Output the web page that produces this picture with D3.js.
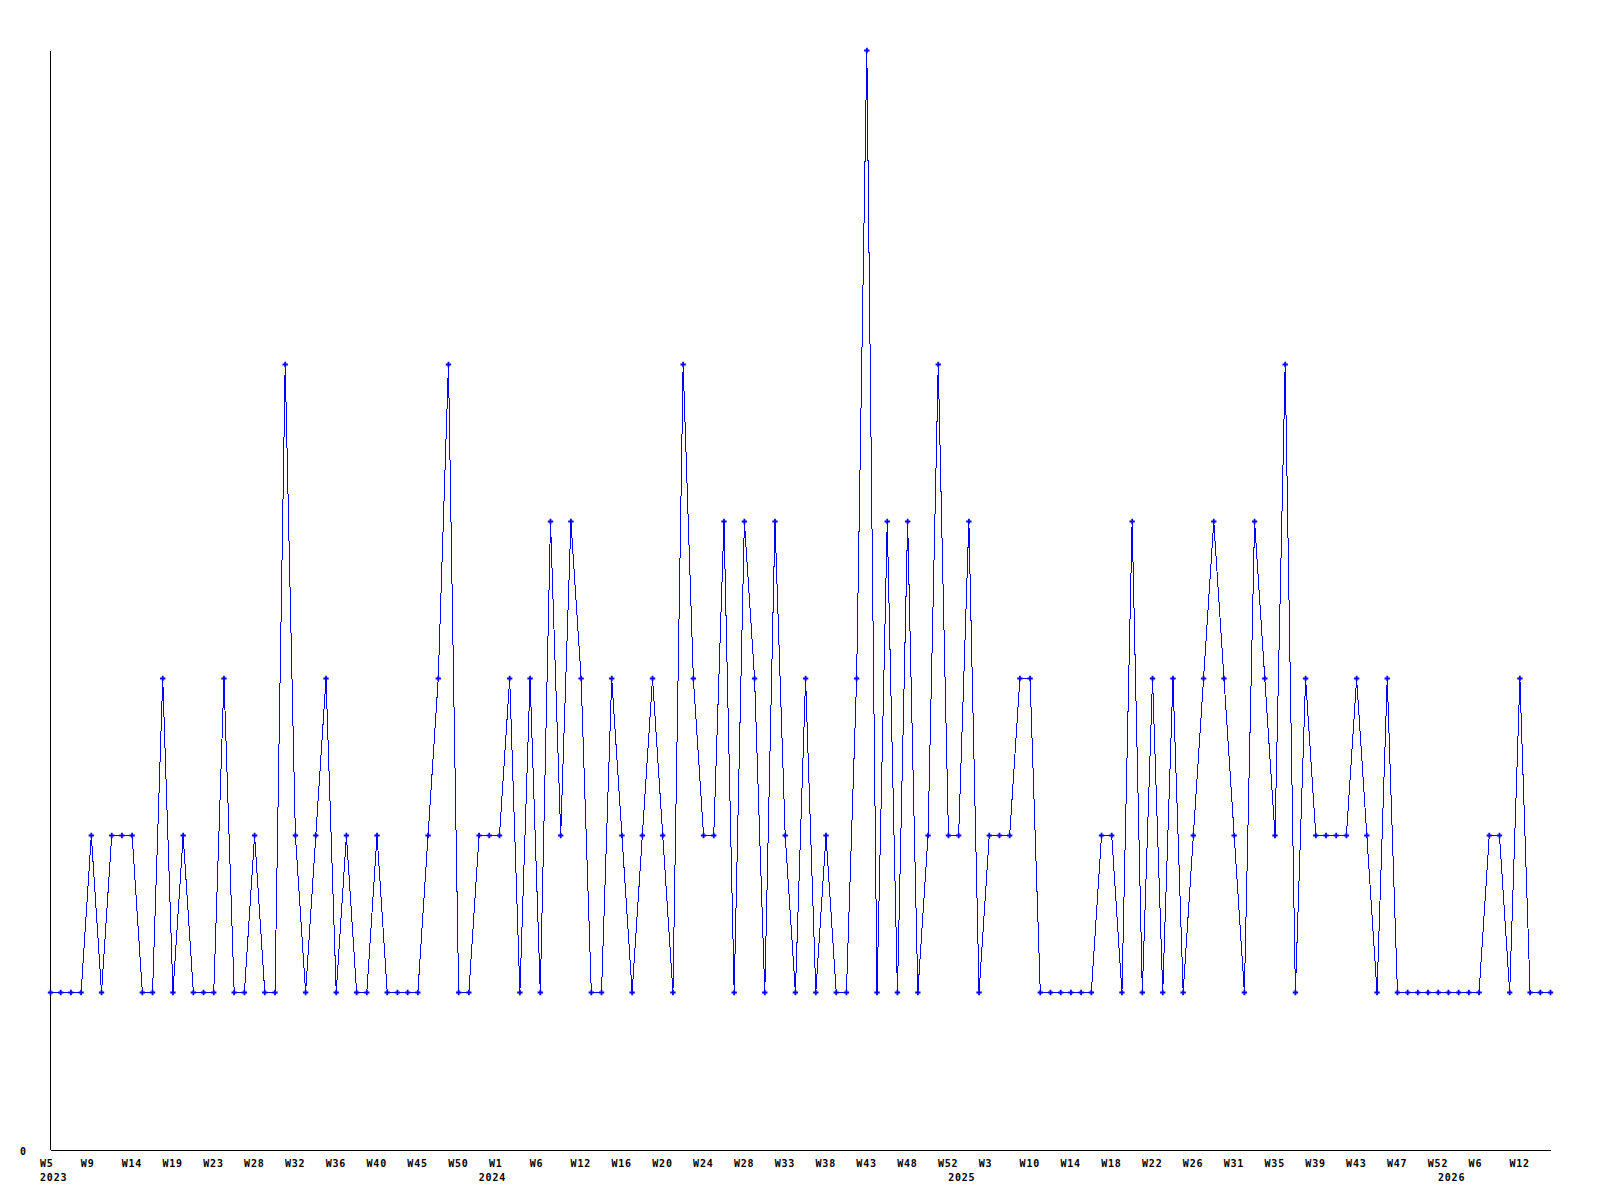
<!DOCTYPE html>
<html lang="en">
<head>
    <meta charset="UTF-8">
    <style>
        body { margin: 0; background: #ffffff; }
        text {
            font-family: "DejaVu Sans Mono", monospace;
            font-size: 10px;
            font-weight: bold;
            letter-spacing: 0.8px;
            fill: #000000;
        }
        .domain { stroke: #000000; stroke-width: 1; shape-rendering: crispEdges; }
        .series { fill: none; stroke: #0000ff; stroke-width: 1; shape-rendering: crispEdges; }
        .marker { fill: #0000ff; }
    </style>
    <title>Weekly count</title>
    <script src="https://d3js.org/d3.v7.min.js"></script>
</head>
<body>
<script type="text/javascript">
// one value per point
var values = [
    1, 1, 1, 1, 2, 1, 2, 2, 2, 1,
    1, 3, 1, 2, 1, 1, 1, 3, 1, 1,
    2, 1, 1, 5, 2, 1, 2, 3, 1, 2,
    1, 1, 2, 1, 1, 1, 1, 2, 3, 5,
    1, 1, 2, 2, 2, 3, 1, 3, 1, 4,
    2, 4, 3, 1, 1, 3, 2, 1, 2, 3,
    2, 1, 5, 3, 2, 2, 4, 1, 4, 3,
    1, 4, 2, 1, 3, 1, 2, 1, 1, 3,
    7, 1, 4, 1, 4, 1, 2, 5, 2, 2,
    4, 1, 2, 2, 2, 3, 3, 1, 1, 1,
    1, 1, 1, 2, 2, 1, 4, 1, 3, 1,
    3, 1, 2, 3, 4, 3, 2, 1, 4, 3,
    2, 5, 1, 3, 2, 2, 2, 2, 3, 2,
    1, 3, 1, 1, 1, 1, 1, 1, 1, 1,
    1, 2, 2, 1, 3, 1, 1, 1
];

// x tick labels, one every 4 points
var weekLabels = ["W5", "W9", "W14", "W19", "W23", "W28", "W32", "W36", "W40", "W45",
    "W50", "W1", "W6", "W12", "W16", "W20", "W24", "W28", "W33", "W38",
    "W43", "W48", "W52", "W3", "W10", "W14", "W18", "W22", "W26", "W31",
    "W35", "W39", "W43", "W47", "W52", "W6", "W12"];
var tickStep = 4;

var yearLabels = ["2023", "2024", "2025", "2026"];
var yearIndex = [0, 43, 89, 137];

var yTicks = [0];
var yMax = 7;

var width = 1600, height = 1200;

var svg = d3.select("body")
    .append("svg")
    .attr("width", width)
    .attr("height", height);

var xScale = d3.scaleLinear().domain([0, values.length - 1]).range([50, 1550]);
var yScale = d3.scaleLinear().domain([0, yMax]).range([1149, 50]);

var xAxis = d3.axisBottom(xScale)
    .tickValues(d3.range(0, values.length, tickStep))
    .tickFormat(function(d, i) { return weekLabels[i]; })
    .tickSize(0)
    .tickSizeOuter(0);

var yAxis = d3.axisLeft(yScale)
    .tickValues(yTicks)
    .tickFormat(d3.format("d"))
    .tickSize(0)
    .tickSizeOuter(0);

var gx = svg.append("g").attr("class", "x-axis").attr("transform", "translate(0,1150)").call(xAxis);
gx.selectAll("text")
    .attr("text-anchor", "start")
    .attr("x", -10.5)
    .attr("dy", null)
    .attr("y", 16.5);

var gy = svg.append("g").attr("class", "y-axis").attr("transform", "translate(50,0)").call(yAxis);
gy.selectAll("text")
    .attr("text-anchor", "start")
    .attr("x", -30)
    .attr("dy", null)
    .attr("y", 5);

svg.append("g").attr("class", "years")
    .selectAll("text")
    .data(yearLabels)
    .enter()
    .append("text")
    .attr("x", function(d, i) { return xScale(yearIndex[i]) - 10; })
    .attr("y", 1181)
    .text(function(d) { return d; });

var g = svg.append("g").attr("transform", "translate(0.5,0.5)");

var line = d3.line()
    .x(function(d, i) { return xScale(i); })
    .y(function(d) { return yScale(d); });

g.append("path")
    .datum(values)
    .attr("class", "series")
    .attr("d", line);

g.selectAll(".marker")
    .data(values)
    .enter()
    .append("path")
    .attr("class", "marker")
    .attr("d", d3.symbol().type(d3.symbolCross).size(16))
    .attr("transform", function(d, i) {
        return "translate(" + xScale(i) + "," + yScale(d) + ")";
    });
</script>
</body>
</html>
